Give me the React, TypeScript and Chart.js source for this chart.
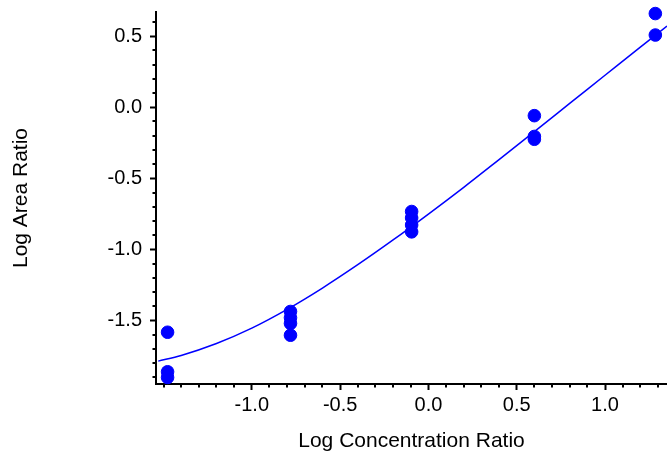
import React, { useEffect, useRef } from "react";
import { Chart, registerables } from "chart.js";

Chart.register(...registerables);

// Axis ticks
const xTickValues = [-1.0, -0.5, 0.0, 0.5, 1.0];
const yTickValues = [-1.5, -1.0, -0.5, 0.0, 0.5];
const xMinorTicks = [-1.5, -1.4, -1.3, -1.2, -1.1, -0.9, -0.8, -0.7, -0.6, -0.4, -0.3, -0.2, -0.1, 0.1, 0.2, 0.3, 0.4, 0.6, 0.7, 0.8, 0.9, 1.1, 1.2, 1.3];
const yMinorTicks = [-1.9, -1.8, -1.7, -1.6, -1.4, -1.3, -1.2, -1.1, -0.9, -0.8, -0.7, -0.6, -0.4, -0.3, -0.2, -0.1, 0.1, 0.2, 0.3, 0.4, 0.6];

// Measured points
const pointX = [-1.477, -1.477, -1.477, -0.781, -0.781, -0.781, -0.781, -0.095, -0.095, -0.095, -0.095, 0.6, 0.6, 0.6, 1.285, 1.285];
const pointY = [-1.582, -1.86, -1.9, -1.436, -1.48, -1.52, -1.603, -0.733, -0.778, -0.828, -0.876, -0.059, -0.205, -0.225, 0.659, 0.508];

// Fitted curve
const curveX = [-1.53, -1.4, -1.2, -1.0, -0.8, -0.6, -0.4, -0.2, 0.0, 0.2, 0.4, 0.6, 0.8, 1.0, 1.2, 1.351];
const curveY = [-1.785, -1.745, -1.661, -1.553, -1.421, -1.271, -1.107, -0.933, -0.751, -0.563, -0.368, -0.171, 0.027, 0.225, 0.423, 0.571];

const X_MIN = -1.5425;
const X_MAX = 1.351;
const Y_MIN = -1.946;
const Y_MAX = 0.67;

const BLUE = "#0000FF";
const FONT = "'Liberation Sans', Arial, sans-serif";

const minorTicksPlugin = {
  id: "minorTicks",
  afterDraw(chart: any) {
    const ctx = chart.ctx;
    const { left, bottom } = chart.chartArea;
    const xs = chart.scales.x;
    const ys = chart.scales.y;
    ctx.save();
    ctx.strokeStyle = "#000";
    ctx.lineWidth = 2;
    ctx.beginPath();
    xMinorTicks.forEach((v) => {
      const p = Math.round(xs.getPixelForValue(v));
      ctx.moveTo(p, bottom);
      ctx.lineTo(p, bottom + 3.5);
    });
    yMinorTicks.forEach((v) => {
      const p = Math.round(ys.getPixelForValue(v));
      ctx.moveTo(left, p);
      ctx.lineTo(left - 3.5, p);
    });
    ctx.stroke();
    ctx.restore();
  },
};

export default function App() {
  const ref = useRef<HTMLCanvasElement | null>(null);

  useEffect(() => {
    if (!ref.current) return;
    const chart = new Chart(ref.current, {
      type: "scatter",
      data: {
        datasets: [
          {
            label: "Data",
            data: pointX.map((x, i) => ({ x, y: pointY[i] })),
            backgroundColor: BLUE,
            borderColor: BLUE,
            borderWidth: 1,
            pointRadius: 6.3,
            pointHoverRadius: 6.3,
            clip: false as any,
          },
          {
            label: "Fit",
            type: "line" as any,
            data: curveX.map((x, i) => ({ x, y: curveY[i] })),
            borderColor: BLUE,
            borderWidth: 1.5,
            pointRadius: 0,
            fill: false,
            cubicInterpolationMode: "monotone",
            showLine: true,
          } as any,
        ],
      },
      options: {
        animation: false,
        responsive: false,
        devicePixelRatio: 1,
        events: [],
        layout: { autoPadding: false, padding: { top: 12, right: 0, left: 0, bottom: 0 } },
        plugins: { legend: { display: false }, tooltip: { enabled: false } },
        scales: {
          x: {
            type: "linear",
            min: X_MIN,
            max: X_MAX,
            afterBuildTicks: (axis: any) => {
              axis.ticks = xTickValues.map((v) => ({ value: v }));
            },
            afterFit: (s: any) => {
              s.height = 68;
              s.paddingLeft = 0;
              s.paddingRight = 0;
            },
            grid: { drawOnChartArea: false, drawTicks: true, tickLength: 6, tickWidth: 2, tickColor: "#000" },
            border: { display: true, color: "#000", width: 2 },
            ticks: {
              autoSkip: false,
              maxRotation: 0,
              padding: 3,
              color: "#000",
              font: { family: FONT, size: 20 },
              callback: (v: any) => Number(v).toFixed(1),
            },
            title: {
              display: true,
              text: "Log Concentration Ratio",
              color: "#000",
              font: { family: FONT, size: 21 },
              padding: { top: 0, bottom: -2 },
            },
          },
          y: {
            type: "linear",
            min: Y_MIN,
            max: Y_MAX,
            afterBuildTicks: (axis: any) => {
              axis.ticks = yTickValues.map((v) => ({ value: v }));
            },
            afterFit: (s: any) => {
              s.width = 156;
              s.paddingTop = 0;
              s.paddingBottom = 0;
            },
            grid: { drawOnChartArea: false, drawTicks: true, tickLength: 6, tickWidth: 2, tickColor: "#000" },
            border: { display: true, color: "#000", width: 2 },
            ticks: {
              autoSkip: false,
              padding: 8,
              color: "#000",
              font: { family: FONT, size: 20 },
              callback: (v: any) => Number(v).toFixed(1),
            },
            title: {
              display: true,
              text: "Log Area Ratio",
              color: "#000",
              font: { family: FONT, size: 21 },
              padding: { top: 9, bottom: 0 },
            },
          },
        },
      },
      plugins: [minorTicksPlugin],
    });
    return () => chart.destroy();
  }, []);

  return (
    <div style={{ position: "absolute", left: 0, top: 0, width: 667, height: 452, background: "#fff" }}>
      <canvas ref={ref} width={667} height={452} style={{ display: "block" }} />
    </div>
  );
}
